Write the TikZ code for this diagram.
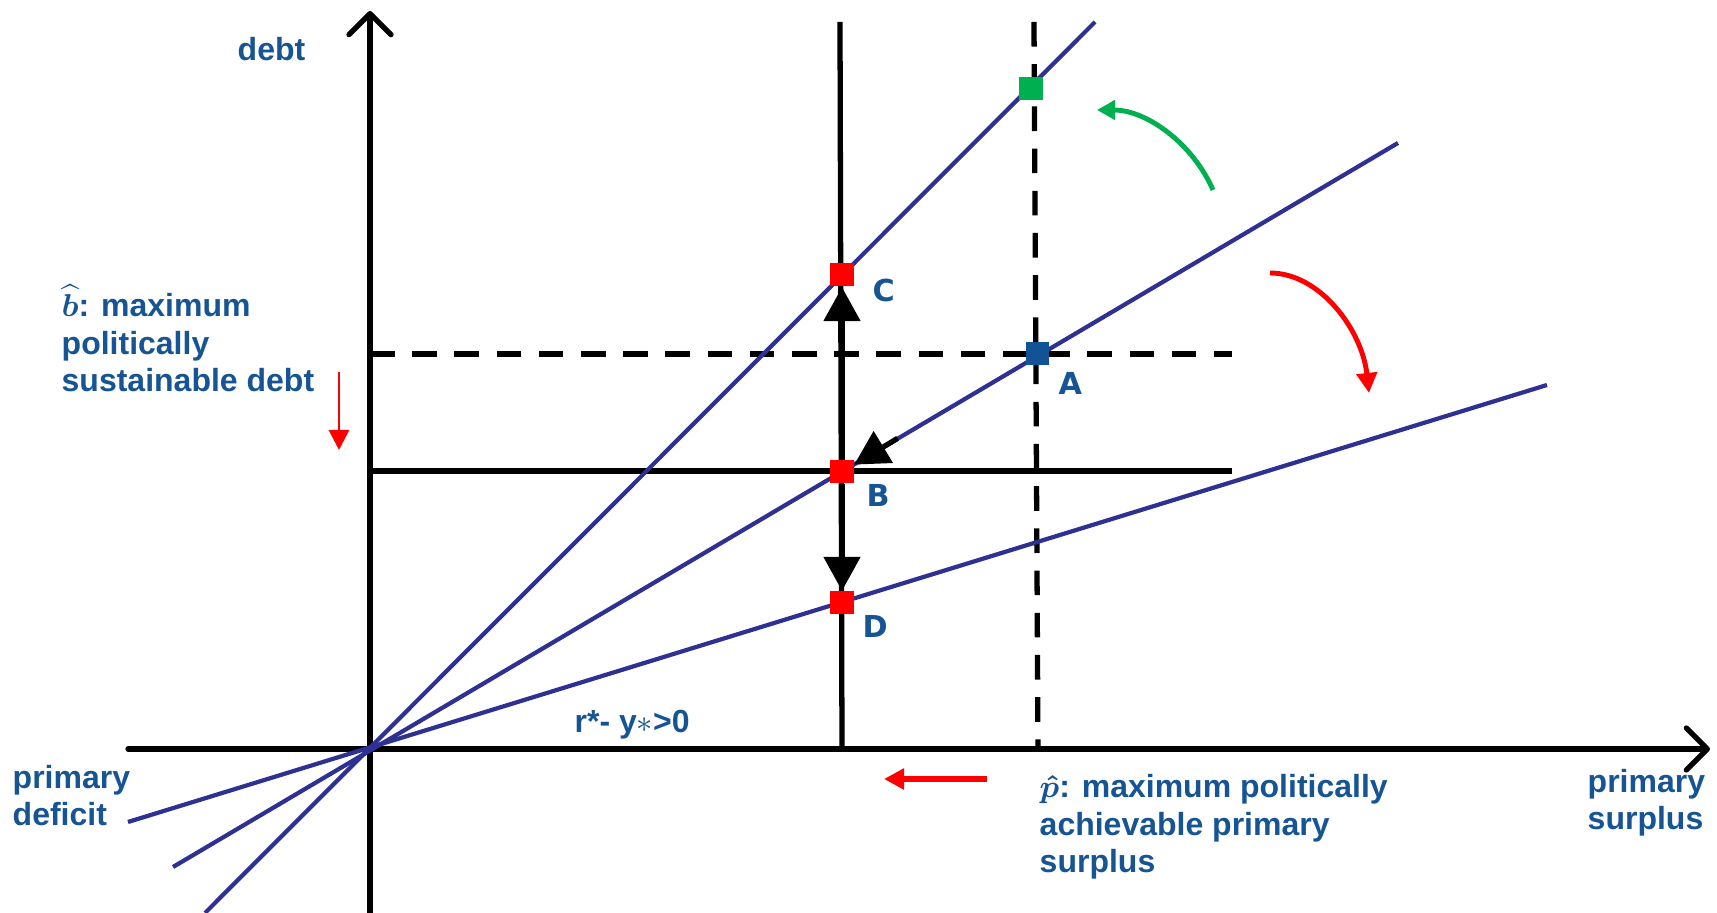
\documentclass[tikz,border=0pt]{standalone}
\usepackage{amsmath}
\usepackage{fontspec}
\setmainfont{Liberation Sans}
\newfontfamily\ptfont{DejaVu Sans}
\usepackage{xcolor}
\usepackage{tikz}
\usetikzlibrary{arrows.meta, calc}

\definecolor{txtblue}{RGB}{22,84,148}
\definecolor{rayblue}{RGB}{46,49,146}
\definecolor{ptblue}{RGB}{16,84,150}
\definecolor{ptgreen}{RGB}{0,176,80}
\definecolor{ptred}{RGB}{255,0,0}

\begin{document}
\begin{tikzpicture}[
    x=0.01cm, y=-0.01cm,
    axis/.style={line width=1.5pt, line cap=round, -{Straight Barb[length=2.1mm, width=4.2mm, round]}},
    guide/.style={line width=1.5pt},
    dashguide/.style={line width=1.5pt, dash pattern=on 7pt off 5pt},
    ray/.style={draw=rayblue, line width=1.2pt},
    sqmark/.style={rectangle, minimum size=0.23cm, inner sep=0pt},
    bigarrow/.style={line width=1.5pt, -{Triangle[length=3.4mm, width=3.6mm]}},
    redarrow/.style={draw=ptred, line width=1.4pt, -{Triangle[length=2mm, width=2mm]}},
    greenarrow/.style={draw=ptgreen, line width=1.4pt, -{Triangle[length=1.8mm, width=1.9mm]}},
    lbl/.style={text=txtblue, font=\fontsize{9.1}{10.8}\selectfont\bfseries, inner sep=0pt},
    ptlbl/.style={text=txtblue, font=\ptfont\fontsize{8.6}{10}\selectfont\bfseries, inner sep=0pt}
]
\useasboundingbox (0,0) rectangle (1717,913);

% Axes
\coordinate (O) at (370,749);
\coordinate (xstart) at (128,749);
\coordinate (xend) at (1710,749);
\coordinate (ystart) at (370,913);
\coordinate (yend) at (370,11);
\draw[axis] (xstart) -- (xend);
\draw[axis] (ystart) -- (yend);

% Guide lines
\coordinate (vtop) at (840,22);
\coordinate (vbot) at (842,749);
\coordinate (pvtop) at (1034,22);
\coordinate (pvbot) at (1038,749);
\coordinate (bhl) at (370,354);
\coordinate (bhr) at (1232,354);
\coordinate (bl) at (370,471);
\coordinate (br) at (1232,471);
\draw[guide] (vtop) -- (vbot);
\draw[dashguide] (pvtop) -- (pvbot);
\draw[dashguide] (bhl) -- (bhr);
\draw[guide] (bl) -- (br);

% Rays through the origin
\coordinate (steep0) at (205,913);
\coordinate (steep1) at (1095,22);
\coordinate (mid0) at (173,867);
\coordinate (mid1) at (1398,143);
\coordinate (flat0) at (128,822);
\coordinate (flat1) at (1547,385);
\draw[ray] (steep0) -- (steep1);
\draw[ray] (mid0) -- (mid1);
\draw[ray] (flat0) -- (flat1);

% Points
\node[sqmark, fill=ptgreen] (G) at (1031,89) {};
\node[sqmark, fill=ptred] (C) at (842,275) {};
\node[sqmark, fill=ptblue] (A) at (1037,354) {};
\node[sqmark, fill=ptred] (B) at (842,472) {};
\node[sqmark, fill=ptred] (D) at (842,603) {};

\node[ptlbl, anchor=base west] (Clbl) at (872,302) {C};
\node[ptlbl, anchor=base west] (Albl) at (1058,395) {A};
\node[ptlbl, anchor=base west] (Blbl) at (866,507) {B};
\node[ptlbl, anchor=base west] (Dlbl) at (862,638) {D};

% Moves between points
\coordinate (ab) at ($(A)!0.715!(B)$);
\draw[bigarrow] (ab) -- (B);
\draw[bigarrow] (B) -- (C);
\draw[bigarrow] (B) -- (D);

% Rotations and shifts
\coordinate (g0) at (1213,190);
\coordinate (g1) at (1097,110);
\draw[greenarrow] (g0) .. controls (1193,144) and (1147,110) .. (g1);
\coordinate (r0) at (1270,273);
\coordinate (r1) at (1369,393);
\draw[redarrow] (r0) .. controls (1320,273) and (1362,330) .. (r1);
\coordinate (bdn0) at (339,372);
\coordinate (bdn1) at (339,450);
\draw[redarrow, line width=0.8pt] (bdn0) -- (bdn1);
\coordinate (pl0) at (987,779);
\coordinate (pl1) at (884,779);
\draw[redarrow, line width=1.6pt] (pl0) -- (pl1);

% Labels
\node[lbl, anchor=base west] (debt) at (237,61) {debt};
\node[lbl, align=left, anchor=base west] (bhat) at (61,392) {$\boldsymbol{\widehat{b}}$: maximum\\politically\\sustainable debt};
\node[lbl, align=left, anchor=base west] (deficit) at (12,826) {primary\\deficit};
\node[lbl, align=left, anchor=base west] (surplus) at (1587,830) {primary\\surplus};
\node[lbl, align=left, anchor=base west] (phat) at (1039,873) {$\boldsymbol{\hat{p}}$: maximum politically\\achievable primary\\surplus};
\node[lbl, anchor=base west] (rate) at (574,733) {r*- y$\ast$>0};

\end{tikzpicture}
\end{document}
